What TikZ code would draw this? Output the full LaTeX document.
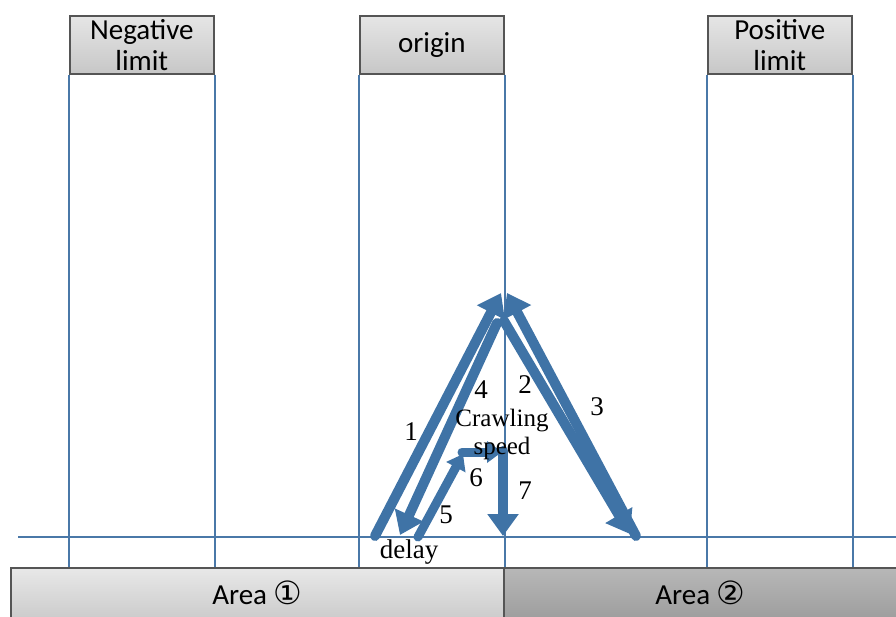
\documentclass[tikz,border=0pt]{standalone}
\usepackage{fontspec}
\setmainfont{Liberation Serif}
\newfontfamily\calfont{Carlito}
\newfontfamily\djfont{DejaVu Sans}
\usetikzlibrary{arrows.meta}
\definecolor{lblue}{HTML}{4A78A8}
\definecolor{ablue}{HTML}{3F73A6}
\definecolor{bord}{HTML}{555555}
\begin{document}
\begin{tikzpicture}[x=1pt,y=-1pt,
  limbox/.style={draw=bord, line width=1.6pt, top color=black!10, bottom color=black!22,
    minimum width=144pt, minimum height=58pt, inner sep=0pt, align=center, anchor=north west,
    font=\calfont\fontsize{29}{31}\selectfont},
  areabox/.style={draw=bord, line width=1.6pt, minimum height=50pt, inner sep=0pt, anchor=north west,
    font=\calfont\fontsize{29}{31}\selectfont},
  vline/.style={draw=lblue, line width=1.8pt},
  bigarrow/.style={draw=ablue, line width=10pt, line cap=round, -{Triangle[width=30pt,length=22pt]}},
  smallarrow/.style={draw=ablue, line width=9pt, line cap=round, line join=round, -{Triangle[width=21pt,length=15pt]}},
  lbl/.style={font=\fontsize{27}{29}\selectfont, inner sep=0pt}
]
\useasboundingbox (0,0) rectangle (896,617);
% top boxes
\node[limbox] (neg) at (69,15) {Negative\\limit};
\node[limbox] (ori) at (359,15) {origin};
\node[limbox] (pos) at (707,15) {Positive\\limit};
% area bars
\node[areabox, minimum width=493pt, top color=black!9, bottom color=black!20] (area1) at (10,567) {Area {\djfont\fontsize{32}{31}\selectfont ①}};
\node[areabox, minimum width=393pt, top color=black!28, bottom color=black!38] (area2) at (503,567) {Area {\djfont\fontsize{32}{31}\selectfont ②}};
% vertical lines
\foreach \b in {neg,ori,pos}{
  \draw[vline] (\b.south west) -- (\b.south west |- area1.north);
  \draw[vline] (\b.south east) -- (\b.south east |- area1.north);
}
% horizontal line
\coordinate (hl) at (18,537);
\coordinate (hr) at (896,537);
\draw[vline] (hl) -- (hr);
% arrows
\coordinate (a1s) at (375,536); \coordinate (a1e) at (501,293);
\coordinate (a3s) at (636,536); \coordinate (a3e) at (507,293);
\coordinate (a2s) at (504,321); \coordinate (a2e) at (630,534);
\coordinate (a4s) at (497,323); \coordinate (a4e) at (400,535);
\coordinate (a5s) at (418,537); \coordinate (a5e) at (463,454);
\coordinate (a6s) at (462,452); \coordinate (a6e) at (502,452);
\coordinate (a7s) at (503,451); \coordinate (a7e) at (503,536);
\draw[bigarrow] (a1s) -- (a1e);
\draw[bigarrow] (a3s) -- (a3e);
\draw[bigarrow] (a2s) -- (a2e);
\draw[bigarrow] (a4s) -- (a4e);
\draw[smallarrow] (a5s) -- (a5e);
\draw[smallarrow] (a6s) -- (a6e);
\draw[bigarrow] (a7s) -- (a7e);
% labels
\node[lbl] (l1) at (411,432) {1};
\node[lbl] (l2) at (525,385) {2};
\node[lbl] (l3) at (597,407) {3};
\node[lbl] (l4) at (481,390) {4};
\node[lbl] (l5) at (446,515) {5};
\node[lbl] (l6) at (476,478) {6};
\node[lbl] (l7) at (525,491) {7};
\node[lbl, font=\fontsize{25}{26}\selectfont] (crawl) at (502,421) {Crawling};
\node[lbl, font=\fontsize{25}{26}\selectfont] (speed) at (502,448) {speed};
\node[lbl] (delay) at (409,552) {delay};
\end{tikzpicture}
\end{document}
